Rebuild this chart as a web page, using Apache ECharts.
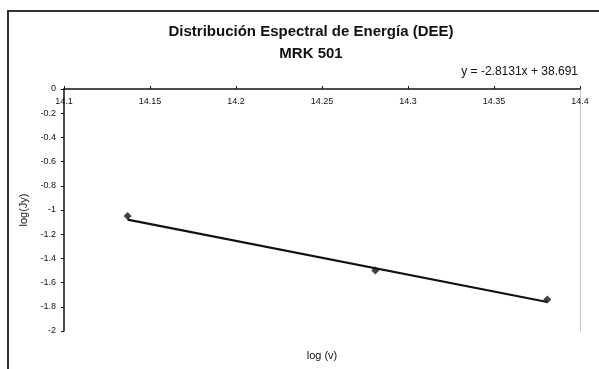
<!DOCTYPE html>
<html>
<head>
	<meta charset="utf-8">
	<title>DEE MRK 501</title>
	<script src="https://cdn.jsdelivr.net/npm/echarts@6/dist/echarts.min.js"></script>
	<style>
		body { margin: 0; background: #fff; }
		#frame {
			position: absolute; left: 7px; top: 10px; width: 700px; height: 400px;
			border-left: 2px solid #333; border-top: 2px solid #333;
		}
		#main { position: absolute; left: 0; top: 0; width: 599px; height: 369px; }
	</style>
</head>
<body>
	<div id="frame"></div>
	<div id="main"></div>
	<script type="text/javascript">
		// puntos observados: log(v), log(Jy)
		var logNu = [14.137, 14.281, 14.381];
		var logJy = [-1.05, -1.50, -1.74];
		// extremos de la recta de ajuste
		var fitX = [14.137, 14.381];
		var fitY = [-1.08, -1.76];
		var xTicks = ['14.1', '14.15', '14.2', '14.25', '14.3', '14.35', '14.4'];

		var pts = logNu.map(function (x, i) { return [x, logJy[i]]; });
		var fit = fitX.map(function (x, i) { return [x, fitY[i]]; });

		var myChart = echarts.init(document.getElementById('main'));
		var font = 'Liberation Sans, Arial, sans-serif';
		var titleStyle = { fontSize: 15, fontWeight: 'bold', color: '#111', fontFamily: font };
		myChart.setOption({
			animation: false,
			textStyle: { fontFamily: font },
			title: [{
				text: 'Distribución Espectral de Energía (DEE)',
				left: 306, top: 19, textAlign: 'center', textStyle: titleStyle
			}, {
				text: 'MRK 501',
				left: 306, top: 41, textAlign: 'center', textStyle: titleStyle
			}, {
				text: 'y = -2.8131x + 38.691',
				right: 16, top: 61,
				textStyle: { fontSize: 12, fontWeight: 'normal', color: '#111', fontFamily: font }
			}],
			grid: { left: 64, right: 19, top: 89, bottom: 38 },
			xAxis: {
				type: 'value', position: 'top',
				min: 14.1, max: 14.4, interval: 0.05,
				name: 'log (v)', nameLocation: 'middle', nameGap: -272,
				nameTextStyle: { fontSize: 11, color: '#111' },
				axisLine: { lineStyle: { color: '#111', width: 1.5 } },
				axisTick: { inside: false, length: 3, lineStyle: { color: '#111' } },
				axisLabel: {
					inside: true, margin: 8, fontSize: 9, color: '#111',
					formatter: function (v) {
						var s = v.toFixed(2).replace(/0$/, '');
						return xTicks.indexOf(s) >= 0 ? s : '';
					}
				},
				splitLine: { show: false }
			},
			yAxis: [{
				type: 'value', min: -2, max: 0, interval: 0.2,
				name: 'log(Jy)', nameLocation: 'middle', nameGap: 31,
				nameTextStyle: { fontSize: 11, color: '#111' },
				axisLine: { show: true, lineStyle: { color: '#111', width: 1.5 } },
				axisTick: { show: true, length: 3, lineStyle: { color: '#111' } },
				axisLabel: {
					fontSize: 9, color: '#111', margin: 8,
					formatter: function (v) { return String(Math.round(v * 10) / 10); }
				},
				splitLine: { show: false }
			}, {
				type: 'value', position: 'right', min: -2, max: 0, interval: 0.2,
				axisLine: { show: true, lineStyle: { color: '#bbb', width: 1, type: 'dotted' } },
				axisTick: { show: false }, axisLabel: { show: false }, splitLine: { show: false }
			}],
			series: [{
				type: 'line', data: fit, showSymbol: false, symbol: 'none',
				lineStyle: { color: '#111', width: 2.2 }
			}, {
				type: 'scatter', data: pts, symbol: 'diamond', symbolSize: 8,
				itemStyle: { color: '#111' }
			}]
		});
	</script>
</body>
</html>
